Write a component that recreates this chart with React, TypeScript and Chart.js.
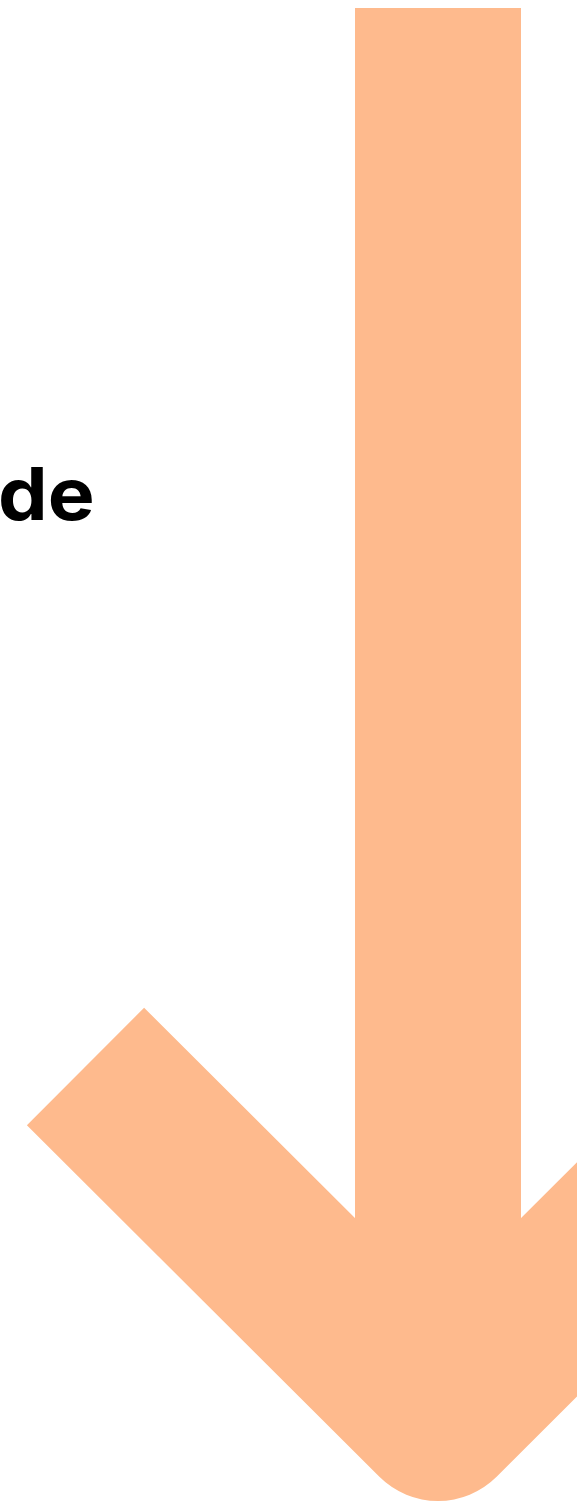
import React, { useEffect, useRef } from "react";
import { Chart, registerables } from "chart.js";

Chart.register(...registerables);

const W = 577;
const H = 1502;

// Arrow shaft (centre line) and chevron (centre line), in data units
const shaftX = [438, 438];
const shaftY = [8, 1418];
const chevronX = [85.5, 438, 790.5];
const chevronY = [1066.5, 1418, 1066.5];

const labelText = ["de"];
const labelPos = [{ x: -2, y: 520 }];

const ARROW_COLOR = "#FEBA8D";
const LABEL_FONT = "700 73px Inter";
const LABEL_STRETCH = 1.08;

const textPlugin = {
  id: "textLabels",
  afterDatasetsDraw(chart: any) {
    const { ctx, scales } = chart;
    labelText.forEach((t, i) => {
      const px = scales.x.getPixelForValue(labelPos[i].x);
      const py = scales.y.getPixelForValue(labelPos[i].y);
      ctx.save();
      ctx.translate(px, py);
      ctx.scale(LABEL_STRETCH, 1);
      ctx.fillStyle = "#000000";
      ctx.font = LABEL_FONT + ", 'Open Sans', sans-serif";
      ctx.textBaseline = "alphabetic";
      ctx.textAlign = "left";
      ctx.fillText(t, 0, 0);
      ctx.restore();
    });
  },
};

const lineDataset = (label: string, xs: number[], ys: number[]) => ({
  label,
  data: xs.map((x, i) => ({ x, y: ys[i] })),
  showLine: true,
  borderColor: ARROW_COLOR,
  backgroundColor: ARROW_COLOR,
  borderWidth: 166,
  borderCapStyle: "butt",
  borderJoinStyle: "round",
  tension: 0.0001,
  pointRadius: 0,
  pointHoverRadius: 0,
  clip: false as any,
});

export default function App() {
  const ref = useRef<HTMLCanvasElement | null>(null);

  useEffect(() => {
    let chart: Chart | null = null;
    let cancelled = false;
    const build = () => {
      if (cancelled || !ref.current) return;
      chart = new Chart(ref.current, {
        type: "scatter",
        data: {
          datasets: [
            lineDataset("shaft", shaftX, shaftY) as any,
            lineDataset("chevron", chevronX, chevronY) as any,
          ],
        },
        options: {
          responsive: false,
          animation: false,
          events: [],
          layout: { padding: 0 },
          plugins: {
            legend: { display: false },
            tooltip: { enabled: false },
            title: { display: false },
          },
          scales: {
            x: { type: "linear", min: 0, max: W, display: false },
            y: { type: "linear", min: 0, max: H, reverse: true, display: false },
          },
        },
        plugins: [textPlugin],
      });
    };
    const fonts: any = (document as any).fonts;
    if (fonts && fonts.load) {
      fonts.load(LABEL_FONT, "de").then(build, build);
    } else {
      build();
    }
    return () => {
      cancelled = true;
      if (chart) chart.destroy();
    };
  }, []);

  return (
    <div style={{ position: "fixed", left: 0, top: 0, width: W, height: H, background: "#fff" }}>
      <canvas ref={ref} width={W} height={H} style={{ width: W, height: H, display: "block" }} />
    </div>
  );
}
